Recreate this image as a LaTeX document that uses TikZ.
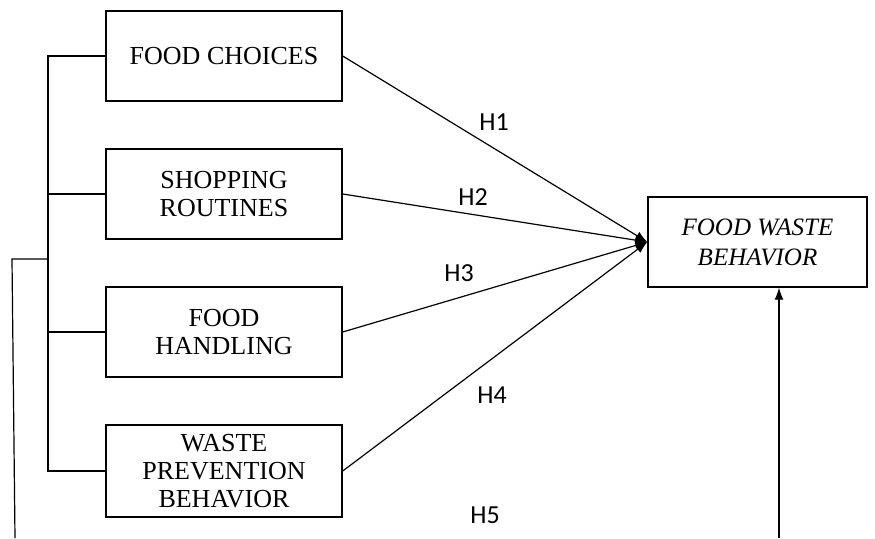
\documentclass[tikz,border=0pt]{standalone}
\usepackage{fontspec}
\setmainfont{Liberation Serif}
\newfontfamily\hfont{Carlito}
\usetikzlibrary{arrows.meta}

\begin{document}
\begin{tikzpicture}[x=1pt, y=-1pt, line width=1.2pt,
    factor/.style={draw, line width=1.4pt, minimum width=236pt, minimum height=90pt, align=center,
        font=\fontsize{26}{28}\selectfont, inner sep=0pt},
    hyp/.style={font=\hfont\fontsize{26}{28}\selectfont, inner sep=0pt},
    link/.style={-{Latex[length=12pt,width=9pt]}}]
    % 画布
    \useasboundingbox (0,0) rectangle (875,538);

    % 自变量
    \node[factor] (fc) at (224,56) {FOOD CHOICES};
    \node[factor] (sr) at (224,194) {SHOPPING\\ROUTINES};
    \node[factor] (fh) at (224,332) {FOOD\\HANDLING};
    \node[factor, minimum height=92pt] (wpb) at (224,471) {WASTE\\PREVENTION\\BEHAVIOR};

    % 因变量
    \node[factor, minimum width=219pt, font=\itshape\fontsize{25}{30}\selectfont] (fwb) at (757.5,242) {FOOD WASTE\\BEHAVIOR};

    % 左侧连线
    \coordinate (bustop) at (48,56);
    \coordinate (busjoin) at (48,259);
    \coordinate (outtop) at (12,259);
    \coordinate (outbot) at (15,538);
    \draw (fc.west) -- (bustop) -- (bustop |- wpb.west) -- (wpb.west);
    \draw (sr.west) -- (sr.west -| bustop);
    \draw (fh.west) -- (fh.west -| bustop);
    \draw (busjoin) -- (outtop) -- (outbot);

    % 假设
    \draw[link] (fc.east) -- (fwb.west);
    \draw[link] (sr.east) -- (fwb.west);
    \draw[link] (fh.east) -- (fwb.west);
    \draw[link] (wpb.east) -- (fwb.west);
    \coordinate (h5start) at (779,538);
    \draw[link] (h5start) -- (h5start |- fwb.south);

    \node[hyp] (h1) at (494,122) {H1};
    \node[hyp] (h2) at (473,197) {H2};
    \node[hyp] (h3) at (459,273) {H3};
    \node[hyp] (h4) at (492,395) {H4};
    \node[hyp] (h5) at (485,515) {H5};
\end{tikzpicture}
\end{document}
